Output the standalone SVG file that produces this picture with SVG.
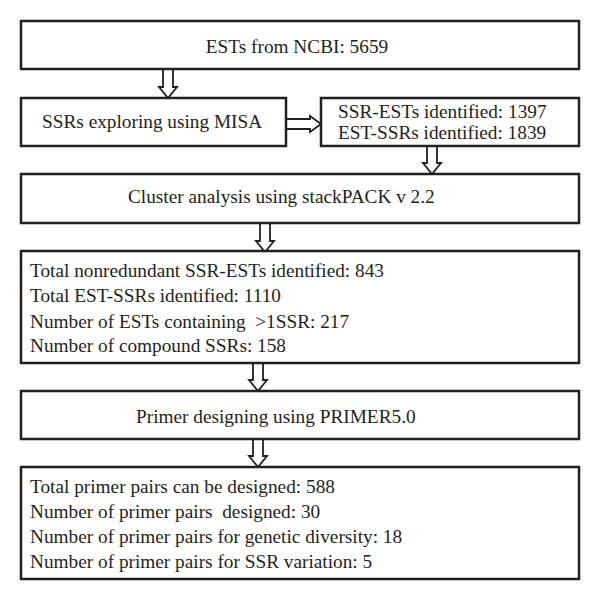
<svg xmlns="http://www.w3.org/2000/svg" width="600" height="600" viewBox="0 0 600 600">
<style>
.box{fill:#fff;stroke:#231f20;stroke-width:2.5}
.arr{fill:#fff;stroke:#231f20;stroke-width:1.8;stroke-linejoin:miter}
text{font-family:"Liberation Serif","Times New Roman",serif;font-size:19.3px;fill:#231f20;white-space:pre}
</style>
<rect width="600" height="600" fill="#fff"/>
<g id="connectors">
<polygon class="arr" points="163,69 173,69 173,87 177,87 168,98 159,87 163,87"/>
<polygon class="arr" points="286,119 310,119 310,116 321,124 310,132 310,129 286,129"/>
<polygon class="arr" points="427,146 437,146 437,163 441,163 432,174 423,163 427,163"/>
<polygon class="arr" points="260,223 270,223 270,241 274,241 265,252 256,241 260,241"/>
<polygon class="arr" points="253,363 263,363 263,380 267,380 258,391 249,380 253,380"/>
<polygon class="arr" points="253,439 263,439 263,456 267,456 258,467 249,456 253,456"/>
</g>
<g id="n1"><rect class="box" x="21" y="21" width="558" height="48"/><text x="297" y="53" text-anchor="middle">ESTs from NCBI: 5659</text></g>
<g id="n2"><rect class="box" x="21" y="98" width="265" height="48"/><text x="42" y="128">SSRs exploring using MISA</text></g>
<g id="n3"><rect class="box" x="321" y="98" width="258" height="48"/><text x="338" y="118">SSR-ESTs identified: 1397</text><text x="338" y="139">EST-SSRs identified: 1839</text></g>
<g id="n4"><rect class="box" x="21" y="174" width="558" height="49"/><text x="128" y="203">Cluster analysis using stackPACK v 2.2</text></g>
<g id="n5"><rect class="box" x="21" y="251" width="558" height="112"/>
<text x="30" y="277">Total nonredundant SSR-ESTs identified: 843</text>
<text x="30" y="302">Total EST-SSRs identified: 1110</text>
<text x="30" y="328">Number of ESTs containing  &gt;1SSR: 217</text>
<text x="30" y="352">Number of compound SSRs: 158</text></g>
<g id="n6"><rect class="box" x="21" y="391" width="558" height="48"/><text x="136" y="423">Primer designing using PRIMER5.0</text></g>
<g id="n7"><rect class="box" x="21" y="467" width="558" height="112"/>
<text x="30" y="493">Total primer pairs can be designed: 588</text>
<text x="30" y="518">Number of primer pairs  designed: 30</text>
<text x="30" y="543">Number of primer pairs for genetic diversity: 18</text>
<text x="30" y="568">Number of primer pairs for SSR variation: 5</text></g>
</svg>
